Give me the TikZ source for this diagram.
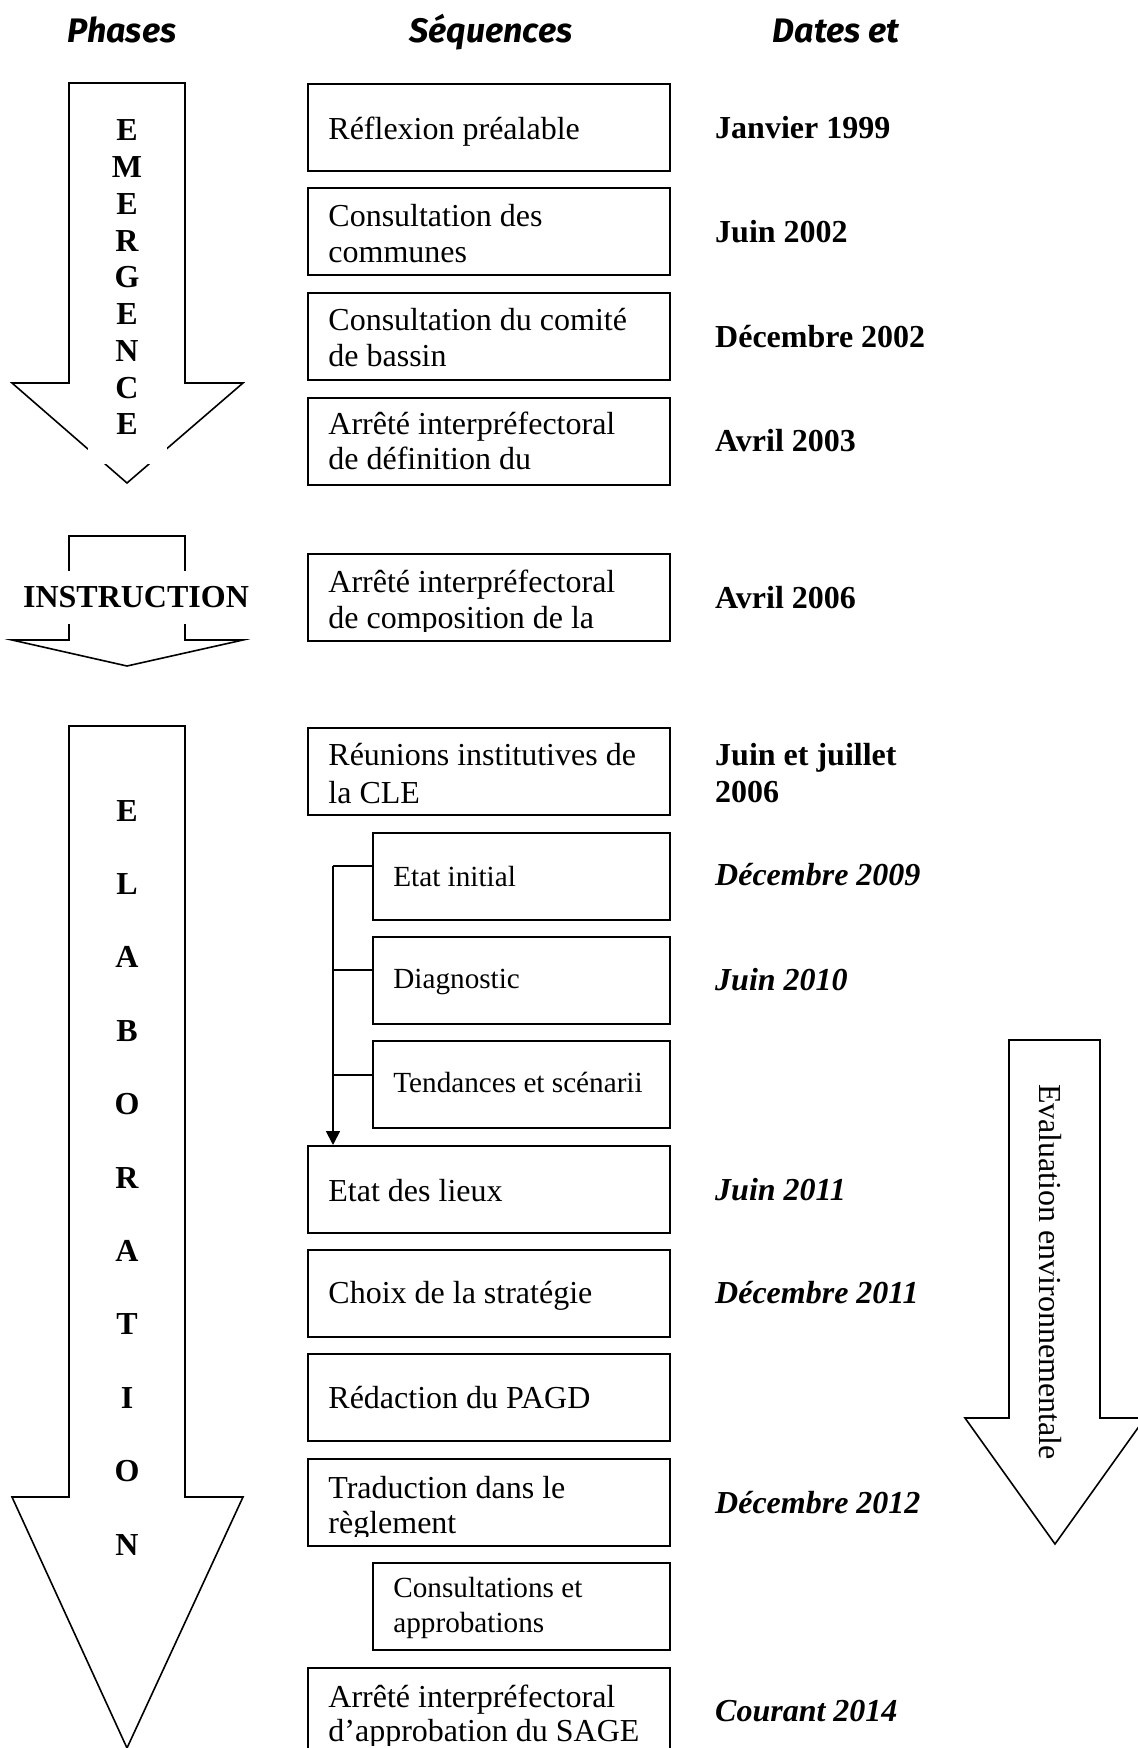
\documentclass[tikz,border=0pt]{standalone}
\usepackage{fontspec}
\setmainfont{Liberation Serif}
\newfontfamily\headfont{Fira Sans}
\usetikzlibrary{calc,arrows.meta}
\tikzset{
  seqbox/.style={draw, line width=0.9pt, minimum height=43.5pt, inner sep=0pt, anchor=north west},
  seqtxt/.style={anchor=base west, inner sep=0pt, font=\fontsize{16}{18}\selectfont},
  subtxt/.style={anchor=base west, inner sep=0pt, font=\fontsize{14.6}{17.5}\selectfont},
  datebf/.style={anchor=base west, inner sep=0pt, font=\fontsize{16}{18}\selectfont\bfseries},
  dateit/.style={anchor=base west, inner sep=0pt, font=\fontsize{16}{18}\selectfont\bfseries\itshape},
  letter/.style={anchor=base, inner sep=0pt, font=\fontsize{16}{18}\selectfont\bfseries},
  phasearrow/.style={draw, line width=0.8pt, line join=miter},
  conn/.style={draw, line width=0.9pt},
  head/.style={anchor=base, inner sep=0pt, font=\headfont\fontsize{17}{20}\selectfont\bfseries\itshape},
}
% #1 name, #2 x, #3 top, #4 width (px), #5 baseline offset, #6 text style, #7 text
\newcommand\seqone[7]{%
  \node[seqbox, minimum width=#4*0.5pt] (#1) at (#2,#3) {};
  \node[#6] (#1t) at ($(#1.north west)+(21,#5)$) {#7};}
% #1 name, #2 x, #3 top, #4 width, #5/#6 baseline offsets, #7 style, #8/#9 lines
\newcommand\seqtwo[9]{%
  \node[seqbox, minimum width=#4*0.5pt] (#1) at (#2,#3) {};
  \begin{scope}
    \clip ($(#1.north west)+(0,2)$) rectangle ($(#1.south east)+(0,-10)$);
    \node[#7] (#1a) at ($(#1.north west)+(21,#5)$) {#8};
    \node[#7] (#1b) at ($(#1.north west)+(21,#6)$) {#9};
  \end{scope}}
\begin{document}
\begin{tikzpicture}[x=0.5pt,y=-0.5pt]
\path[use as bounding box, fill=white] (0,0) rectangle (1137,1748);

% headers
\node[head] (hph) at (122,43) {Phases};
\node[head] (hseq) at (491,43) {Séquences};
\node[head] (hdat) at (836,43) {Dates et};

% EMERGENCE arrow
\draw[phasearrow] (69,83) -- (185,83) -- (185,383) -- (243,383) -- (127,483) -- (12,383) -- (69,383) -- cycle;
\fill[white] (88,420) rectangle (167,464);
\foreach \l [count=\i from 0] in {E,M,E,R,G,E,N,C,E}
  \node[letter] (em\i) at (127,{141+36.75*\i}) {\l};

% INSTRUCTION arrow
\draw[phasearrow] (69,536) -- (185,536) -- (185,640) -- (243,640) -- (127,666) -- (12,640) -- (69,640) -- cycle;
\node[fill=white, inner xsep=2pt, inner ysep=0pt, minimum height=26.5pt, font=\fontsize{16}{18}\selectfont\bfseries] (instr) at (136,597) {INSTRUCTION};

% ELABORATION arrow
\draw[phasearrow] (69,726) -- (185,726) -- (185,1497) -- (243,1497) -- (127,1748) -- (12,1497) -- (69,1497) -- cycle;
\foreach \l [count=\i from 0] in {E,L,A,B,O,R,A,T,I,O,N}
  \node[letter] (el\i) at (127,{821+73.4*\i}) {\l};

% Evaluation environnementale arrow
\draw[phasearrow] (1009,1040) -- (1100,1040) -- (1100,1418) -- (1145,1418) -- (1055,1544) -- (965,1418) -- (1009,1418) -- cycle;
\node[rotate=-90, inner sep=0pt, font=\fontsize{16}{18}\selectfont] (evtxt) at (1050,1272) {Evaluation environnementale};

% sequence boxes
\seqone{b1}{307}{83}{362}{57}{seqtxt}{Réflexion préalable}
\seqtwo{b2}{307}{187}{362}{40}{76}{seqtxt}{Consultation des}{communes}
\seqtwo{b3}{307}{292}{362}{39}{75}{seqtxt}{Consultation du comité}{de bassin}
\seqtwo{b4}{307}{397}{362}{38}{73}{seqtxt}{Arrêté interpréfectoral}{de définition du}
\seqtwo{b5}{307}{553}{362}{39}{75}{seqtxt}{Arrêté interpréfectoral}{de composition de la}
\seqtwo{b6}{307}{727}{362}{38}{76}{seqtxt}{Réunions institutives de}{la CLE}
\seqone{b7}{372}{832}{297}{54}{subtxt}{Etat initial}
\seqone{b8}{372}{936}{297}{52}{subtxt}{Diagnostic}
\seqone{b9}{372}{1040}{297}{52}{subtxt}{Tendances et scénarii}
\seqone{b10}{307}{1145}{362}{56}{seqtxt}{Etat des lieux}
\seqone{b11}{307}{1249}{362}{54}{seqtxt}{Choix de la stratégie}
\seqone{b12}{307}{1353}{362}{55}{seqtxt}{Rédaction du PAGD}
\seqtwo{b13}{307}{1458}{362}{40}{75}{seqtxt}{Traduction dans le}{règlement}
\seqtwo{b14}{372}{1562}{297}{35}{70}{subtxt}{Consultations et}{approbations}
\seqtwo{b15}{307}{1667}{362}{40}{74}{seqtxt}{Arrêté interpréfectoral}{d’approbation du SAGE}

% bracket connector
\draw[conn] ($(b7.north west)+(0,34)$) -- ++(-39,0) coordinate (brtop);
\draw[conn] ($(b8.north west)+(0,34)$) -- ++(-39,0);
\draw[conn] ($(b9.north west)+(0,35)$) -- ++(-39,0);
\draw[conn, -{Triangle[length=7pt,width=7pt]}] (brtop) -- (brtop |- b10.north);

% dates
\node[datebf] (d1) at ($(b1.north east)+(44,56)$) {Janvier 1999};
\node[datebf] (d2) at ($(b2.north east)+(44,56)$) {Juin 2002};
\node[datebf] (d3) at ($(b3.north east)+(44,56)$) {Décembre 2002};
\node[datebf] (d4) at ($(b4.north east)+(44,55)$) {Avril 2003};
\node[datebf] (d5) at ($(b5.north east)+(44,55)$) {Avril 2006};
\node[datebf] (d6a) at ($(b6.north east)+(44,38)$) {Juin et juillet};
\node[datebf] (d6b) at ($(b6.north east)+(44,75)$) {2006};
\node[dateit] (d7) at ($(b7.north east)+(44,53)$) {Décembre 2009};
\node[dateit] (d8) at ($(b8.north east)+(44,54)$) {Juin 2010};
\node[dateit] (d10) at ($(b10.north east)+(44,55)$) {Juin 2011};
\node[dateit] (d11) at ($(b11.north east)+(44,54)$) {Décembre 2011};
\node[dateit] (d13) at ($(b13.north east)+(44,55)$) {Décembre 2012};
\node[dateit] (d15) at ($(b15.north east)+(44,54)$) {Courant 2014};
\end{tikzpicture}
\end{document}
